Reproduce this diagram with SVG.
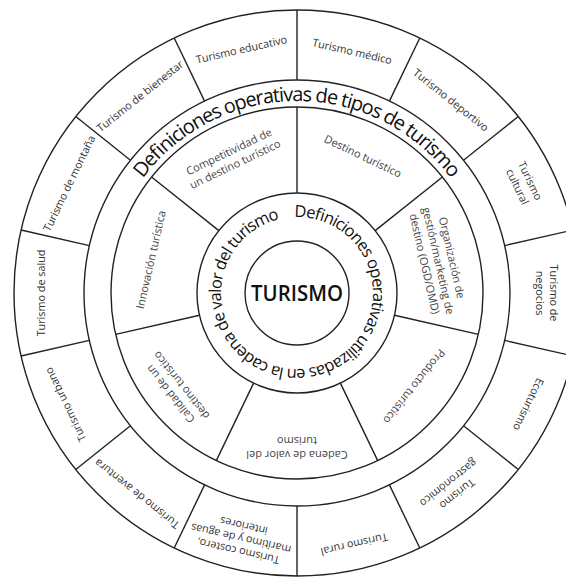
<svg xmlns="http://www.w3.org/2000/svg" width="566" height="579" viewBox="0 0 566 579">
<style>
.ring{fill:none;stroke:#222;stroke-width:1.4}
.div line{stroke:#222;stroke-width:1.4}
.lo{font-family:"Open Sans","Liberation Sans",sans-serif;font-size:10.8px;fill:#333;text-anchor:middle}
.lm{font-family:"Open Sans","Liberation Sans",sans-serif;font-size:11px;fill:#444;text-anchor:middle}
.ttl{font-family:"Open Sans","Liberation Sans",sans-serif;font-size:20px;fill:#111}
.inn{font-family:"Open Sans","Liberation Sans",sans-serif;font-size:16.5px;fill:#111}
.ctr{font-family:"Open Sans","Liberation Sans",sans-serif;font-size:22px;font-weight:600;fill:#111;text-anchor:middle}
</style>
<defs>
<path id="pTitle" d="M-192,0 A192,192 0 0 1 192,0"/>
<path id="pInner" d="M-2.65,-76 A76,76 0 0 1 2.65,76 A76,76 0 0 1 -2.65,-76"/>
</defs>
<rect width="566" height="579" fill="#fff"/>
<g transform="translate(297,293)">
<g id="rings">
<circle class="ring" r="283"/>
<circle class="ring" r="213"/>
<circle class="ring" r="186"/>
<circle class="ring" r="100"/>
<circle class="ring" r="52"/>
</g>
<g id="connectors" class="div">
<g id="outer-dividers">
<line x1="0" y1="-213" x2="0" y2="-283"/>
<line x1="0" y1="-213" x2="0" y2="-283" transform="rotate(25.714)"/>
<line x1="0" y1="-213" x2="0" y2="-283" transform="rotate(51.429)"/>
<line x1="0" y1="-213" x2="0" y2="-283" transform="rotate(77.143)"/>
<line x1="0" y1="-213" x2="0" y2="-283" transform="rotate(102.857)"/>
<line x1="0" y1="-213" x2="0" y2="-283" transform="rotate(128.571)"/>
<line x1="0" y1="-213" x2="0" y2="-283" transform="rotate(154.286)"/>
<line x1="0" y1="-213" x2="0" y2="-283" transform="rotate(180)"/>
<line x1="0" y1="-213" x2="0" y2="-283" transform="rotate(205.714)"/>
<line x1="0" y1="-213" x2="0" y2="-283" transform="rotate(231.429)"/>
<line x1="0" y1="-213" x2="0" y2="-283" transform="rotate(257.143)"/>
<line x1="0" y1="-213" x2="0" y2="-283" transform="rotate(282.857)"/>
<line x1="0" y1="-213" x2="0" y2="-283" transform="rotate(308.571)"/>
<line x1="0" y1="-213" x2="0" y2="-283" transform="rotate(334.286)"/>
</g>
<g id="middle-dividers">
<line x1="0" y1="-100" x2="0" y2="-186"/>
<line x1="0" y1="-100" x2="0" y2="-186" transform="rotate(51.429)"/>
<line x1="0" y1="-100" x2="0" y2="-186" transform="rotate(102.857)"/>
<line x1="0" y1="-100" x2="0" y2="-186" transform="rotate(154.286)"/>
<line x1="0" y1="-100" x2="0" y2="-186" transform="rotate(205.714)"/>
<line x1="0" y1="-100" x2="0" y2="-186" transform="rotate(257.143)"/>
<line x1="0" y1="-100" x2="0" y2="-186" transform="rotate(308.571)"/>
</g>
</g>
<g id="center">
<text class="ctr" x="0" y="8" textLength="92" lengthAdjust="spacingAndGlyphs">TURISMO</text>
</g>
<g id="inner-ring">
<text class="inn" textLength="462" lengthAdjust="spacing"><textPath href="#pInner">Definiciones operativas utilizadas en la cadena de valor del turismo</textPath></text>
</g>
<g id="title-band">
<text class="ttl" text-anchor="middle" textLength="358" lengthAdjust="spacing"><textPath href="#pTitle" startOffset="50%">Definiciones operativas de tipos de turismo</textPath></text>
</g>
<g id="value-chain">
<g id="destino" transform="rotate(25.714) translate(0,-152)"><text class="lm" y="4">Destino turístico</text></g>
<g id="ogd" transform="rotate(77.143) translate(0,-145)"><text class="lm"><tspan x="0" y="-10">Organización de</tspan><tspan x="0" y="4">gestión/marketing de</tspan><tspan x="0" y="18">destino (OGD/OMD)</tspan></text></g>
<g id="producto" transform="rotate(128.571) translate(0,-150)"><text class="lm" y="4">Producto turístico</text></g>
<g id="cadena" transform="rotate(180) translate(0,-155)"><text class="lm"><tspan x="0" y="-3">Cadena de valor del</tspan><tspan x="0" y="11">turismo</tspan></text></g>
<g id="calidad" transform="rotate(231.429) translate(0,-155)"><text class="lm"><tspan x="0" y="-3">Calidad de un</tspan><tspan x="0" y="11">destino turístico</tspan></text></g>
<g id="innovacion" transform="rotate(282.857) translate(0,-150)"><text class="lm" y="4">Innovación turística</text></g>
<g id="competitividad" transform="rotate(334.286) translate(0,-150)"><text class="lm"><tspan x="0" y="-3">Competitividad de</tspan><tspan x="0" y="11">un destino turístico</tspan></text></g>
</g>
<g id="tourism-types">
<g id="medico" transform="rotate(12.857) translate(0,-248)"><text class="lo" y="4">Turismo médico</text></g>
<g id="deportivo" transform="rotate(38.571) translate(0,-247)"><text class="lo" y="4">Turismo deportivo</text></g>
<g id="cultural" transform="rotate(64.286) translate(0,-252)"><text class="lo"><tspan x="0" y="-3">Turismo</tspan><tspan x="0" y="11">cultural</tspan></text></g>
<g id="negocios" transform="rotate(90) translate(0,-250)"><text class="lo"><tspan x="0" y="-3">Turismo de</tspan><tspan x="0" y="11">negocios</tspan></text></g>
<g id="ecoturismo" transform="rotate(115.714) translate(0,-257)"><text class="lo" y="4">Ecoturismo</text></g>
<g id="gastronomico" transform="rotate(141.429) translate(0,-250)"><text class="lo"><tspan x="0" y="-3">Turismo</tspan><tspan x="0" y="11">gastronómico</tspan></text></g>
<g id="rural" transform="rotate(167.143) translate(0,-258)"><text class="lo" y="4">Turismo rural</text></g>
<g id="costero" transform="rotate(192.857) translate(0,-252)"><text class="lo"><tspan x="0" y="-9">Turismo costero,</tspan><tspan x="0" y="4">marítimo y de aguas</tspan><tspan x="0" y="17">interiores</tspan></text></g>
<g id="aventura" transform="rotate(218.571) translate(0,-257)"><text class="lo" y="4">Turismo de aventura</text></g>
<g id="urbano" transform="rotate(244.286) translate(0,-257)"><text class="lo" y="4">Turismo urbano</text></g>
<g id="salud" transform="rotate(270) translate(0,-256)"><text class="lo" y="4">Turismo de salud</text></g>
<g id="montana" transform="rotate(295.714) translate(0,-253)"><text class="lo" y="4">Turismo de montaña</text></g>
<g id="bienestar" transform="rotate(321.429) translate(0,-252)"><text class="lo" y="4">Turismo de bienestar</text></g>
<g id="educativo" transform="rotate(347.143) translate(0,-250)"><text class="lo" y="4">Turismo educativo</text></g>
</g>
</g>
</svg>
